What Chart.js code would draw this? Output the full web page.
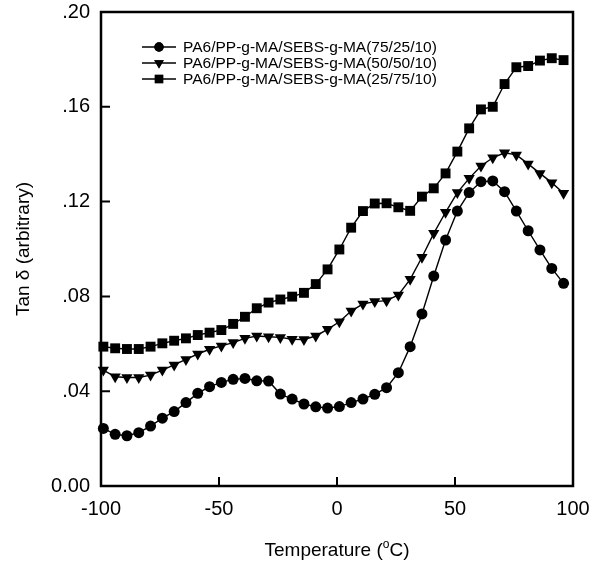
<!DOCTYPE html>
<html>
<head>
<meta charset="utf-8">
<script src="https://cdn.jsdelivr.net/npm/chart.js@4/dist/chart.umd.min.js"></script>
<style>
  html, body { margin: 0; padding: 0; background: #fff; }
  #wrap { width: 602px; height: 565px; }
</style>
</head>
<body>
<div id="wrap"><canvas id="tanChart" width="602" height="565"></canvas></div>
<script>
// temperature (°C) where each series was sampled
var temps = [-99, -94, -89, -84, -79, -74, -69, -64, -59, -54, -49, -44, -39, -34, -29, -24, -19, -14, -9, -4,
  1, 6, 11, 16, 21, 26, 31, 36, 41, 46, 51, 56, 61, 66, 71, 76, 81, 86, 91, 96];

// tan delta values
var blend752510 = [0.0243, 0.0218, 0.0212, 0.0225, 0.0253, 0.0286, 0.0314, 0.0352, 0.0391, 0.0419,
  0.0437, 0.0450, 0.0454, 0.0444, 0.0443, 0.0388, 0.0367, 0.0346, 0.0334, 0.0329,
  0.0335, 0.0352, 0.0367, 0.0387, 0.0415, 0.0478, 0.0588, 0.0726, 0.0886, 0.1038,
  0.1160, 0.1238, 0.1284, 0.1287, 0.1242, 0.1160, 0.1077, 0.0996, 0.0918, 0.0855];
var blend505010 = [0.0489, 0.0461, 0.0458, 0.0458, 0.0468, 0.0489, 0.0511, 0.0534, 0.0557, 0.0577,
  0.0591, 0.0605, 0.0623, 0.0633, 0.0630, 0.0627, 0.0619, 0.0618, 0.0633, 0.0661,
  0.0693, 0.0738, 0.0768, 0.0778, 0.0782, 0.0806, 0.0872, 0.0965, 0.1066, 0.1155,
  0.1238, 0.1298, 0.1350, 0.1385, 0.1406, 0.1397, 0.1359, 0.1319, 0.1280, 0.1235];
var blend257510 = [0.0588, 0.0581, 0.0578, 0.0578, 0.0588, 0.0602, 0.0613, 0.0623, 0.0637, 0.0647,
  0.0658, 0.0684, 0.0714, 0.0750, 0.0774, 0.0787, 0.0799, 0.0815, 0.0852, 0.0914,
  0.0998, 0.1090, 0.1160, 0.1192, 0.1193, 0.1176, 0.1161, 0.1221, 0.1256, 0.1319,
  0.1411, 0.1509, 0.1589, 0.1600, 0.1696, 0.1767, 0.1772, 0.1795, 0.1805, 0.1797];

var seriesNames = ['PA6/PP-g-MA/SEBS-g-MA(75/25/10)', 'PA6/PP-g-MA/SEBS-g-MA(50/50/10)', 'PA6/PP-g-MA/SEBS-g-MA(25/75/10)'];

var xTicks = [-100, -50, 0, 50, 100];
var yTicks = [0, 0.04, 0.08, 0.12, 0.16, 0.20];

var FONT = '"Liberation Sans", Arial, sans-serif';

function toPoints(vals) {
  return vals.map(function(v, i) { return { x: temps[i], y: v }; });
}

function makeSet(label, vals, style, radius, rotation) {
  return {
    label: label,
    data: toPoints(vals),
    showLine: true,
    borderColor: '#000',
    borderWidth: 1.4,
    backgroundColor: '#000',
    pointStyle: style,
    pointRadius: radius,
    pointRotation: rotation || 0,
    pointBorderWidth: 0,
    pointBackgroundColor: '#000',
    tension: 0,
    clip: false
  };
}

//frame, inward ticks, legend and axis titles
var decorations = {
  id: 'decorations',
  afterDraw: function(chart) {
    var ctx = chart.ctx;
    var area = chart.chartArea;
    var xs = chart.scales.x, ys = chart.scales.y;
    ctx.save();
    ctx.strokeStyle = '#000';
    ctx.lineWidth = 2.5;
    ctx.strokeRect(area.left, area.top, area.right - area.left, area.bottom - area.top);

    ctx.lineWidth = 2;
    ctx.beginPath();
    xTicks.forEach(function(t) {
      var px = xs.getPixelForValue(t);
      ctx.moveTo(px, area.bottom);
      ctx.lineTo(px, area.bottom - 9);
    });
    yTicks.forEach(function(t) {
      var py = ys.getPixelForValue(t);
      ctx.moveTo(area.left, py);
      ctx.lineTo(area.left + 9, py);
    });
    ctx.stroke();

    //legend
    ctx.font = '15.5px ' + FONT;
    ctx.textBaseline = 'middle';
    ctx.fillStyle = '#000';
    chart.data.datasets.forEach(function(ds, i) {
      var y = 47 + i * 16;
      ctx.lineWidth = 1.4;
      ctx.beginPath();
      ctx.moveTo(142, y);
      ctx.lineTo(176, y);
      ctx.stroke();
      Chart.helpers.drawPoint(ctx, {
        pointStyle: ds.pointStyle,
        radius: ds.pointRadius * 0.85,
        rotation: ds.pointRotation,
        borderWidth: 0
      }, 159, y);
      ctx.fill();
      ctx.fillText(ds.label, 183, y + 1);
    });

    //x title with superscript
    ctx.textBaseline = 'alphabetic';
    var a = 'Temperature (', sup = 'o', b = 'C)';
    ctx.font = '19px ' + FONT;
    var wa = ctx.measureText(a).width, wb = ctx.measureText(b).width;
    ctx.font = '12px ' + FONT;
    var ws = ctx.measureText(sup).width;
    var cx = (area.left + area.right) / 2;
    var x0 = cx - (wa + ws + wb) / 2;
    var base = 556;
    ctx.font = '19px ' + FONT;
    ctx.textAlign = 'left';
    ctx.fillText(a, x0, base);
    ctx.font = '12px ' + FONT;
    ctx.fillText(sup, x0 + wa, base - 8);
    ctx.font = '19px ' + FONT;
    ctx.fillText(b, x0 + wa + ws, base);

    //y title
    ctx.translate(29, (area.top + area.bottom) / 2);
    ctx.rotate(-Math.PI / 2);
    ctx.textAlign = 'center';
    ctx.fillText('Tan δ (arbitrary)', 0, 0);
    ctx.restore();
  }
};

new Chart(document.getElementById('tanChart'), {
  type: 'scatter',
  data: {
    datasets: [
      makeSet(seriesNames[0], blend752510, 'circle', 5.5),
      makeSet(seriesNames[1], blend505010, 'triangle', 6.5, 180),
      makeSet(seriesNames[2], blend257510, 'rect', 7)
    ]
  },
  options: {
    responsive: false,
    animation: false,
    layout: { padding: { left: 0, top: 12, right: 29, bottom: 0 } },
    plugins: {
      legend: { display: false },
      tooltip: { enabled: false }
    },
    scales: {
      x: {
        type: 'linear',
        min: -100,
        max: 100,
        afterBuildTicks: function(scale) {
          scale.ticks = xTicks.map(function(v) { return { value: v }; });
        },
        afterFit: function(scale) {
          scale.height = 79;
          scale.paddingLeft = 0;
          scale.paddingRight = 0;
        },
        grid: { display: false, drawTicks: false },
        border: { display: false },
        ticks: {
          color: '#000',
          font: { family: FONT, size: 20 },
          padding: 11,
          maxRotation: 0
        }
      },
      y: {
        type: 'linear',
        min: 0,
        max: 0.2,
        afterBuildTicks: function(scale) {
          scale.ticks = yTicks.map(function(v) { return { value: v }; });
        },
        afterFit: function(scale) {
          scale.width = 101;
          scale.paddingTop = 0;
          scale.paddingBottom = 0;
        },
        grid: { display: false, drawTicks: false },
        border: { display: false },
        ticks: {
          color: '#000',
          font: { family: FONT, size: 20 },
          padding: 11,
          callback: function(v) {
            return v === 0 ? '0.00' : v.toFixed(2).replace(/^0/, '');
          }
        }
      }
    }
  },
  plugins: [decorations]
});
</script>
</body>
</html>
